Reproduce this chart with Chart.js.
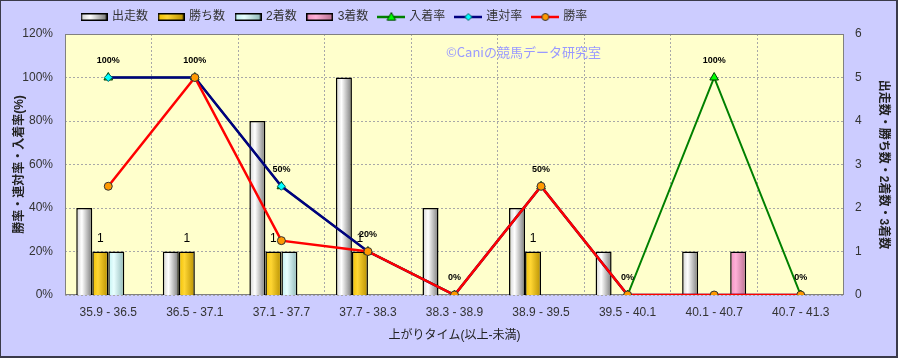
<!DOCTYPE html>
<html><head><meta charset="utf-8">
<script src="https://cdn.jsdelivr.net/npm/chart.js@4.4.1/dist/chart.umd.min.js"></script>
<style>html,body{margin:0;padding:0;background:#ccccff;}canvas{display:block}</style>
</head><body>
<canvas id="c" width="898" height="358"></canvas>
<script>
// ---- data ----
const categories = ['35.9 - 36.5','36.5 - 37.1','37.1 - 37.7','37.7 - 38.3','38.3 - 38.9','38.9 - 39.5','39.5 - 40.1','40.1 - 40.7','40.7 - 41.3'];
const runners  = [2,1,4,5,2,2,1,1,0];   // 出走数
const wins     = [1,1,1,1,0,1,0,0,0];   // 勝ち数
const seconds  = [1,0,1,0,0,0,0,0,0];   // 2着数
const thirds   = [0,0,0,0,0,0,0,1,0];   // 3着数
const placeRate    = [100,100,50,20,0,50,0,100,0]; // 入着率
const quinellaRate = [100,100,50,20,0,50,0,0,0];   // 連対率
const winRate      = [50,100,25,20,0,50,0,0,0];    // 勝率
const leftTicks  = [0,20,40,60,80,100,120];
const rightTicks = [0,1,2,3,4,5,6];

Chart.defaults.font.family = '"Liberation Sans", "Noto Sans CJK JP", sans-serif';
Chart.defaults.font.size = 12;
Chart.defaults.color = '#333';

const barStyles = [
  ['#d0d0d0','#ffffff','#7a7a7a'],
  ['#f0c000','#ffd633','#b89000'],
  ['#c0f0f0','#e8ffff','#90b8b8'],
  ['#f090c0','#ffb0d8','#b87090']
];
function addStops(gr, s){ gr.addColorStop(0,s[0]); gr.addColorStop(0.35,s[1]); gr.addColorStop(1,s[2]); }

function drawMarker(g, type, x, y, r, fill, stroke){
  g.save(); g.beginPath();
  if (type==='circle'){ g.arc(x,y,r,0,Math.PI*2); }
  else if (type==='triangle'){ g.moveTo(x,y-r); g.lineTo(x+r*0.95,y+r*0.7); g.lineTo(x-r*0.95,y+r*0.7); g.closePath(); }
  else { g.moveTo(x,y-r); g.lineTo(x+r,y); g.lineTo(x,y+r); g.lineTo(x-r,y); g.closePath(); }
  g.fillStyle=fill; g.fill(); g.lineWidth=1; g.strokeStyle=stroke; g.stroke(); g.restore();
}
function barSwatch(s){
  const c=document.createElement('canvas'); c.width=27; c.height=8;
  const g=c.getContext('2d'); const gr=g.createLinearGradient(1,0,26,0); addStops(gr,s);
  g.fillStyle=gr; g.fillRect(1,1,25,6); g.strokeStyle='#000'; g.lineWidth=1.5; g.strokeRect(0.75,0.75,25.5,6.5);
  return c;
}
function lineSwatch(color, type, fill, stroke, r){
  const c=document.createElement('canvas'); c.width=28; c.height=12;
  const g=c.getContext('2d'); g.strokeStyle=color; g.lineWidth=2.5;
  g.beginPath(); g.moveTo(0,6); g.lineTo(28,6); g.stroke();
  drawMarker(g,type,14,6,r,fill,stroke); return c;
}
const swatches = [
  barSwatch(barStyles[0]), barSwatch(barStyles[1]), barSwatch(barStyles[2]), barSwatch(barStyles[3]),
  lineSwatch('#008000','triangle','#00ff00','#004000',4.5),
  lineSwatch('#000080','diamond','#00ffff','#006060',3.5),
  lineSwatch('#ff0000','circle','#ff9900','#333',3.5)
];

const decor = {
  id:'decor',
  afterLayout(chart){
    const lg = chart.legend; if(!lg) return;
    lg.left += 71; lg.right += 71; lg.top -= 1; lg.bottom -= 1;
  },
  beforeDraw(chart){
    const {ctx, chartArea:a} = chart;
    ctx.save();
    ctx.fillStyle='#ccccff'; ctx.fillRect(0,0,chart.width,chart.height);
    ctx.fillStyle='#ffffcc'; ctx.fillRect(a.left,a.top,a.right-a.left,a.bottom-a.top);
    ctx.restore();
  },
  beforeDatasetsDraw(chart){
    const {ctx, chartArea:a} = chart;
    ctx.save();
    ctx.strokeStyle='#808080'; ctx.lineWidth=1;
    ctx.strokeRect(Math.round(a.left)+0.5, Math.round(a.top)+0.5, Math.round(a.right-a.left)-1, Math.round(a.bottom-a.top)-1);
    ctx.font='13px "Noto Sans CJK JP", sans-serif'; ctx.fillStyle='#9999ff';
    ctx.textAlign='left'; ctx.textBaseline='middle';
    ctx.fillText('©Caniの競馬データ研究室', a.left+381, a.top+18);
    ctx.restore();
    chart.data.datasets.forEach((ds,di)=>{
      if (ds.type!=='bar') return;
      const meta = chart.getDatasetMeta(di);
      meta.data.forEach(el=>{
        const gr = ctx.createLinearGradient(el.x-el.width/2,0,el.x+el.width/2,0);
        addStops(gr, barStyles[di]);
        el.options = Object.assign({}, el.options, {backgroundColor: gr});
      });
    });
  },
  afterDatasetsDraw(chart){
    const ctx = chart.ctx;
    ctx.save(); ctx.fillStyle='#000'; ctx.textAlign='center'; ctx.textBaseline='middle';
    ctx.font='bold 9px "Liberation Sans", sans-serif';
    chart.getDatasetMeta(4).data.forEach((pt,i)=>{ ctx.fillText(placeRate[i]+'%', pt.x, pt.y-17); });
    ctx.font='12px "Liberation Sans", sans-serif';
    chart.getDatasetMeta(1).data.forEach((el,i)=>{ if (wins[i]>0) ctx.fillText(String(wins[i]), el.x, el.y-13); });
    ctx.restore();
  },
  afterDraw(chart){
    const ctx = chart.ctx; ctx.save();
    ctx.strokeStyle='#3a3a4a'; ctx.lineWidth=1; ctx.strokeRect(0.5,0.5,chart.width-1,chart.height-1);
    ctx.fillStyle='#3a3a4a'; ctx.fillRect(0,chart.height-2,chart.width,2); ctx.fillRect(chart.width-2,0,2,chart.height);
    ctx.restore();
  }
};

function barDs(label, data, order){
  return {type:'bar', label, data, yAxisID:'y1', order, borderColor:'#000', borderWidth:1.5,
          backgroundColor:'#fff', barPercentage:1, categoryPercentage:0.74, borderSkipped:'start'};
}
function lineDs(label, data, order, color, width, style, fill, stroke, r){
  return {type:'line', label, data, yAxisID:'y', order, borderColor:color, borderWidth:width, tension:0,
          pointStyle:style, pointRadius:r, pointBackgroundColor:fill, pointBorderColor:stroke, pointBorderWidth:1, fill:false};
}

new Chart(document.getElementById('c'), {
  data: {
    labels: categories,
    datasets: [
      barDs('出走数', runners, 4),
      barDs('勝ち数', wins, 5),
      barDs('2着数', seconds, 6),
      barDs('3着数', thirds, 7),
      lineDs('入着率', placeRate, 3, '#008000', 2, 'triangle', '#00ff00', '#004000', 5),
      lineDs('連対率', quinellaRate, 2, '#000080', 2.5, 'rectRot', '#00ffff', '#006060', 4),
      lineDs('勝率', winRate, 1, '#ff0000', 2.5, 'circle', '#ff9900', '#333', 4)
    ]
  },
  options: {
    responsive:false, animation:false, devicePixelRatio:1,
    layout:{padding:{top:1,left:0,right:0,bottom:0}},
    plugins:{
      tooltip:{enabled:false},
      legend:{
        position:'top', align:'start',
        labels:{
          usePointStyle:true, pointStyleWidth:24, padding:11, font:{size:12},
          generateLabels(chart){
            return chart.data.datasets.map((ds,i)=>({text:ds.label, pointStyle:swatches[i], fillStyle:'rgba(0,0,0,0)',
              strokeStyle:'rgba(0,0,0,0)', lineWidth:0, hidden:false, datasetIndex:i, fontColor:'#333'}));
          }
        }
      }
    },
    scales:{
      x:{
        offset:true,
        grid:{color:'#a8a8a8', drawTicks:false, offset:true},
        border:{display:false, dash:[2,2]},
        ticks:{padding:10, maxRotation:0, autoSkip:false, color:'#333'},
        title:{display:true, text:'上がりタイム(以上-未満)', color:'#222', padding:{top:0,bottom:15}},
        afterFit(s){ s.height = 63; }
      },
      y:{
        position:'left', min:leftTicks[0], max:leftTicks[leftTicks.length-1],
        grid:{color:'#a8a8a8', drawTicks:false},
        border:{display:false, dash:[2,2]},
        ticks:{stepSize:leftTicks[1]-leftTicks[0], padding:12, color:'#333', callback:v=>v+'%'},
        title:{display:true, text:'勝率・連対率・入着率(%)', color:'#222', font:{size:12, weight:'bold'}, padding:{top:12,bottom:0}},
        afterFit(s){ s.width = 65; }
      },
      y1:{
        position:'right', min:rightTicks[0], max:rightTicks[rightTicks.length-1],
        grid:{display:false, drawTicks:false},
        border:{display:false},
        ticks:{stepSize:rightTicks[1]-rightTicks[0], padding:11, color:'#333'},
        title:{display:true, text:'出走数・勝ち数・2着数・3着数', color:'#222', font:{size:12, weight:'bold'}, padding:{top:7,bottom:0}},
        afterFit(s){ s.width = 54; }
      }
    }
  },
  plugins:[decor]
});
</script>
</body></html>
